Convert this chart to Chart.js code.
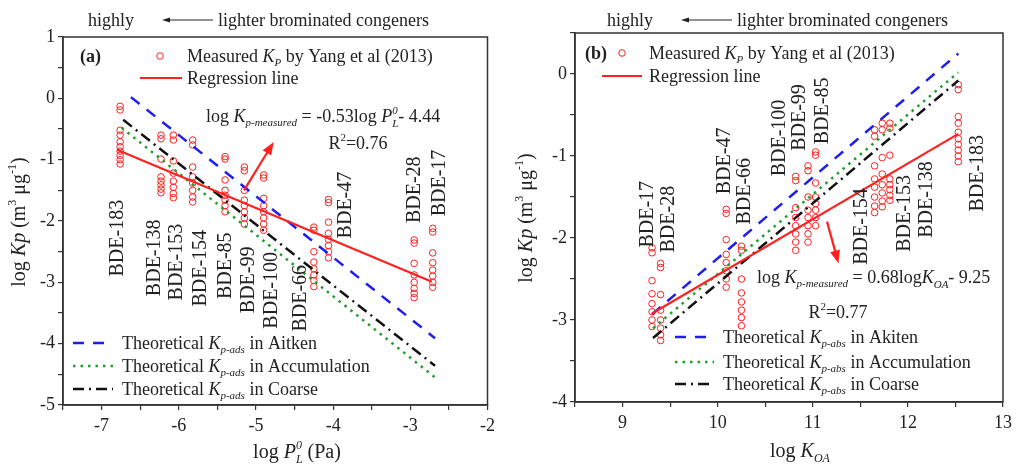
<!DOCTYPE html>
<html>
<head>
<meta charset="utf-8">
<script src="https://cdn.jsdelivr.net/npm/chart.js@4.4.0/dist/chart.umd.min.js"></script>
<style>
  body { margin: 0; background: #fff; }
  #wrap { position: relative; width: 1018px; height: 467px; }
  canvas { position: absolute; top: 0; }
  #ca { left: 0; }
  #cb { left: 500px; }
</style>
</head>
<body>
<div id="wrap">
  <canvas id="ca" width="500" height="467"></canvas>
  <canvas id="cb" width="518" height="467"></canvas>
</div>
<script>
// --- Dados ---
const congeners = ['BDE-17', 'BDE-28', 'BDE-47', 'BDE-66', 'BDE-85', 'BDE-99', 'BDE-100', 'BDE-138', 'BDE-153', 'BDE-154', 'BDE-183'];
const logPL = [-2.71, -2.95, -4.06, -4.25, -5.40, -5.15, -4.90, -6.23, -6.07, -5.82, -6.76];
const logKOA = [9.31, 9.40, 10.09, 10.25, 11.03, 10.95, 10.82, 11.81, 11.73, 11.65, 12.53];

// log Kp medido (Yang et al 2013), uma lista por congênere
const logKp = [
  [-2.12, -2.18, -2.52, -2.68, -2.80, -2.90, -3.00, -3.08],
  [-2.31, -2.36, -2.69, -2.88, -3.00, -3.10, -3.18, -3.25],
  [-1.65, -1.70, -2.02, -2.20, -2.30, -2.40, -2.50, -2.60],
  [-2.10, -2.15, -2.50, -2.67, -2.78, -2.88, -2.97, -3.07],
  [-0.95, -0.99, -1.33, -1.50, -1.58, -1.66, -1.75, -1.85],
  [-1.12, -1.18, -1.50, -1.66, -1.75, -1.85, -1.95, -2.05],
  [-1.25, -1.30, -1.63, -1.75, -1.85, -1.95, -2.05, -2.15],
  [-0.60, -0.66, -0.99, -1.28, -1.35, -1.41, -1.48, -1.54],
  [-0.60, -0.68, -1.02, -1.22, -1.35, -1.45, -1.55, -1.62],
  [-0.68, -0.76, -1.12, -1.28, -1.38, -1.50, -1.61, -1.69],
  [-0.13, -0.19, -0.52, -0.60, -0.71, -0.79, -0.86, -0.93, -1.00, -1.07]
];

// linhas (extremos)
const regLineA = [[-6.80, -0.84], [-2.72, -2.99]];
const aitkenA = [[-6.62, 0.02], [-2.68, -3.91]];
const accumA = [[-6.74, -0.48], [-2.68, -4.55]];
const coarseA = [[-6.72, -0.35], [-2.68, -4.36]];

const regLineB = [[9.31, -2.92], [12.53, -0.73]];
const aitkenB = [[9.31, -2.93], [12.53, 0.25]];
const accumB = [[9.32, -3.10], [12.53, 0.02]];
const coarseB = [[9.32, -3.22], [12.53, -0.08]];

// posição dos rótulos (unidades dos eixos)
const labelPosA = [[-2.62, -1.38], [-2.94, -1.49], [-3.84, -1.74], [-4.42, -3.26], [-5.39, -2.73], [-5.09, -2.96], [-4.79, -3.13], [-6.31, -2.60], [-6.02, -2.67], [-5.71, -2.77], [-6.79, -2.28]];
const labelPosB = [[9.26, -1.71], [9.49, -1.77], [10.07, -1.06], [10.28, -1.43], [11.10, -0.45], [10.86, -0.53], [10.65, -0.78], [12.20, -1.53], [11.97, -1.70], [11.52, -1.86], [12.73, -1.21]];
const arrowA = [[-5.155, -1.50], [-4.77, -0.71]];
const arrowB = [[11.15, -1.80], [11.27, -2.31]];

// --- Estilo ---
const FAM = '"Liberation Serif", "Times New Roman", serif';
const INK = '#222';
const AXIS = '#333';
const RED = '#ff2020';
const BLUE = '#1e1ef0';
const GREEN = '#1f9e2a';
const BLACK = '#111';
const DASH_BLUE = [11, 9];
const DASH_GREEN = [2.5, 5];
const DASH_BLACK = [11, 5, 2, 5];

const font = (size, style) => `${style || ''} ${size}px ${FAM}`;
const n = (t, s) => ({ t, f: font(s || 18) });
const it = (t, s) => ({ t, f: font(s || 18, 'italic') });
const sub = (t, s, dy) => ({ t, f: font(s || 11, 'italic'), dy: dy || 4 });
const sup = (t, s, dy) => ({ t, f: font(s || 11), dy: dy || -8 });

function rich(ctx, segs, x, y, align) {
  let w = 0;
  segs.forEach(s => { ctx.font = s.f; if (s.adv !== false) w += ctx.measureText(s.t).width; });
  let cx = align === 'center' ? x - w / 2 : x;
  ctx.textAlign = 'left';
  ctx.textBaseline = 'alphabetic';
  segs.forEach(s => {
    ctx.font = s.f;
    ctx.fillText(s.t, cx, y + (s.dy || 0));
    if (s.adv !== false) cx += ctx.measureText(s.t).width;
  });
}

function vlabel(ctx, text, x, y) {
  ctx.save();
  ctx.translate(x, y);
  ctx.rotate(-Math.PI / 2);
  ctx.textAlign = 'center';
  ctx.textBaseline = 'middle';
  ctx.font = font(20);
  ctx.fillText(text, 0, 0);
  ctx.restore();
}

function vrich(ctx, segs, x, y) {
  ctx.save();
  ctx.translate(x, y);
  ctx.rotate(-Math.PI / 2);
  rich(ctx, segs, 0, 7, 'center');
  ctx.restore();
}

function arrow(ctx, x0, y0, x1, y1, color, lw, hl, hw) {
  const a = Math.atan2(y1 - y0, x1 - x0);
  ctx.save();
  ctx.strokeStyle = color; ctx.fillStyle = color; ctx.lineWidth = lw;
  ctx.beginPath();
  ctx.moveTo(x0, y0);
  ctx.lineTo(x1 - hl * 0.8 * Math.cos(a), y1 - hl * 0.8 * Math.sin(a));
  ctx.stroke();
  ctx.beginPath();
  ctx.moveTo(x1, y1);
  ctx.lineTo(x1 - hl * Math.cos(a) + hw / 2 * Math.sin(a), y1 - hl * Math.sin(a) - hw / 2 * Math.cos(a));
  ctx.lineTo(x1 - hl * Math.cos(a) - hw / 2 * Math.sin(a), y1 - hl * Math.sin(a) + hw / 2 * Math.cos(a));
  ctx.closePath();
  ctx.fill();
  ctx.restore();
}

function sample(ctx, x0, x1, y, color, dash, lw) {
  ctx.save();
  ctx.strokeStyle = color; ctx.lineWidth = lw || 2.5; ctx.setLineDash(dash || []);
  ctx.beginPath(); ctx.moveTo(x0, y); ctx.lineTo(x1, y); ctx.stroke();
  ctx.restore();
}

function circle(ctx, x, y) {
  ctx.save();
  ctx.strokeStyle = RED; ctx.lineWidth = 1;
  ctx.beginPath(); ctx.arc(x, y, 3.3, 0, Math.PI * 2); ctx.stroke();
  ctx.restore();
}

const toPts = arr => arr.map(([x, y]) => ({ x, y }));

function measuredPoints(xs) {
  const pts = [];
  xs.forEach((x, i) => logKp[i].forEach(y => pts.push({ x, y })));
  return pts;
}

function lineSet(pts, color, dash, lw) {
  return { data: toPts(pts), showLine: true, borderColor: color, borderWidth: lw, borderDash: dash, pointRadius: 0 };
}

function axis(min, max, fit) {
  return {
    type: 'linear', min, max,
    grid: { drawOnChartArea: false, tickLength: 5, color: AXIS, lineWidth: 1.2 },
    border: { color: AXIS, width: 1.5 },
    ticks: {
      stepSize: 0.5, autoSkip: false, maxRotation: 0, padding: fit.pad, color: INK,
      font: { family: FAM, size: 18 },
      callback: v => Number.isInteger(v) ? String(v) : ''
    },
    afterFit: fit.fn
  };
}

function makePanel(id, xs, lines, xr, yr, box, draw) {
  return new Chart(document.getElementById(id), {
    type: 'scatter',
    data: {
      datasets: [
        lineSet(lines[0], RED, [], 2.2),
        lineSet(lines[1], BLUE, DASH_BLUE, 2.5),
        lineSet(lines[2], GREEN, DASH_GREEN, 2.5),
        lineSet(lines[3], BLACK, DASH_BLACK, 2.5),
        { data: measuredPoints(xs), pointRadius: 3.3, pointBorderWidth: 1, borderColor: RED, backgroundColor: 'rgba(0,0,0,0)' }
      ]
    },
    options: {
      responsive: false,
      animation: false,
      layout: { padding: { top: box.top, right: box.right, left: 0, bottom: 0 } },
      plugins: { legend: { display: false }, tooltip: { enabled: false } },
      scales: {
        x: axis(xr[0], xr[1], { pad: 5, fn: s => { s.height = box.xh; } }),
        y: axis(yr[0], yr[1], { pad: 3, fn: s => { s.width = box.yw; } })
      }
    },
    plugins: [{ id: 'extras', afterDraw: draw }]
  });
}

function common(chart, labelPos, arr) {
  const ctx = chart.ctx, xs = chart.scales.x, ys = chart.scales.y, ca = chart.chartArea;
  ctx.save();
  ctx.strokeStyle = AXIS; ctx.lineWidth = 1.5;
  ctx.strokeRect(ca.left, ca.top, ca.right - ca.left, ca.bottom - ca.top);
  ctx.fillStyle = INK;
  congeners.forEach((c, i) => vlabel(ctx, c, xs.getPixelForValue(labelPos[i][0]), ys.getPixelForValue(labelPos[i][1])));
  arrow(ctx, xs.getPixelForValue(arr[0][0]), ys.getPixelForValue(arr[0][1]),
    xs.getPixelForValue(arr[1][0]), ys.getPixelForValue(arr[1][1]), RED, 2.2, 13, 10);
  ctx.restore();
}

function topNote(ctx, x) {
  ctx.fillStyle = INK;
  rich(ctx, [n('highly')], x, 26);
  arrow(ctx, x + 125, 20, x + 74, 20, INK, 1.2, 8, 5);
  rich(ctx, [n('lighter brominated congeners')], x + 130, 26);
}

function yTitle(ctx, x, y) {
  vrich(ctx, [n('log ', 20), it('Kp', 20), n(' (m', 20), sup('3', 12, -9), n(' \u03bcg', 20), sup('-1', 12, -9), n(')', 20)], x, y);
}

// --- Painel (a) ---
makePanel('ca', logPL, [regLineA, aitkenA, accumA, coarseA], [-7.5, -2], [-5, 1],
  { top: 37, right: 9, xh: 62, yw: 63 },
  chart => {
    const ctx = chart.ctx;
    common(chart, labelPosA, arrowA);
    ctx.save();
    ctx.fillStyle = INK;
    topNote(ctx, 88);
    rich(ctx, [{ t: '(a)', f: font(18, 'bold') }], 80, 62);
    circle(ctx, 160, 56);
    rich(ctx, [n('Measured '), it('K'), sub('P', 11), n(' by Yang et al (2013)')], 187, 62);
    sample(ctx, 140, 182, 78, RED, [], 2.2);
    rich(ctx, [n('Regression line')], 187, 84);
    rich(ctx, [n('log '), it('K'), sub('p-measured', 11), n(' = -0.53log '), it('P'),
      { t: '0', f: font(11, 'italic'), dy: -8, adv: false }, sub('L', 11, 5), n('- 4.44')], 206, 122);
    rich(ctx, [n('R'), sup('2', 11), n('=0.76')], 358, 149, 'center');
    const leg = [['Aitken', BLUE, DASH_BLUE, 343], ['Accumulation', GREEN, DASH_GREEN, 366], ['Coarse', BLACK, DASH_BLACK, 389]];
    leg.forEach(([name, c, d, y]) => {
      sample(ctx, 73, 113, y, c, d, 2.5);
      rich(ctx, [n('Theoretical '), it('K'), sub('p-ads', 11), n(' in ' + name)], 122, y + 6);
    });
    rich(ctx, [n('log ', 20), it('P', 20), { t: '0', f: font(12, 'italic'), dy: -9, adv: false }, sub('L', 12, 5), n(' (Pa)', 20)], 297, 458, 'center');
    yTitle(ctx, 18, 222);
    ctx.restore();
  });

// --- Painel (b) ---
makePanel('cb', logKOA, [regLineB, aitkenB, accumB, coarseB], [8.5, 13], [-4, 0.5],
  { top: 33, right: 15, xh: 65, yw: 75 },
  chart => {
    const ctx = chart.ctx;
    common(chart, labelPosB, arrowB);
    ctx.save();
    ctx.fillStyle = INK;
    topNote(ctx, 107);
    rich(ctx, [{ t: '(b)', f: font(18, 'bold') }], 85, 59);
    circle(ctx, 122, 53);
    rich(ctx, [n('Measured '), it('K'), sub('P', 11), n(' by Yang et al (2013)')], 149, 59);
    sample(ctx, 102, 142, 76, RED, [], 2.2);
    rich(ctx, [n('Regression line')], 149, 82);
    rich(ctx, [n('log '), it('K'), sub('p-measured', 11), n(' = 0.68log'), it('K'), sub('OA', 11, 5), n('- 9.25')], 257, 283);
    rich(ctx, [n('R'), sup('2', 11), n('=0.77')], 338, 318, 'center');
    const leg = [['Akiten', BLUE, DASH_BLUE, 337], ['Accumulation', GREEN, DASH_GREEN, 362], ['Coarse', BLACK, DASH_BLACK, 384]];
    leg.forEach(([name, c, d, y]) => {
      sample(ctx, 175, 214, y, c, d, 2.5);
      rich(ctx, [n('Theoretical '), it('K'), sub('p-abs', 11), n(' in ' + name)], 223, y + 6);
    });
    rich(ctx, [n('log ', 20), it('K', 20), sub('OA', 12, 5)], 300, 457, 'center');
    yTitle(ctx, 25, 218);
    ctx.restore();
  });
</script>
</body>
</html>
